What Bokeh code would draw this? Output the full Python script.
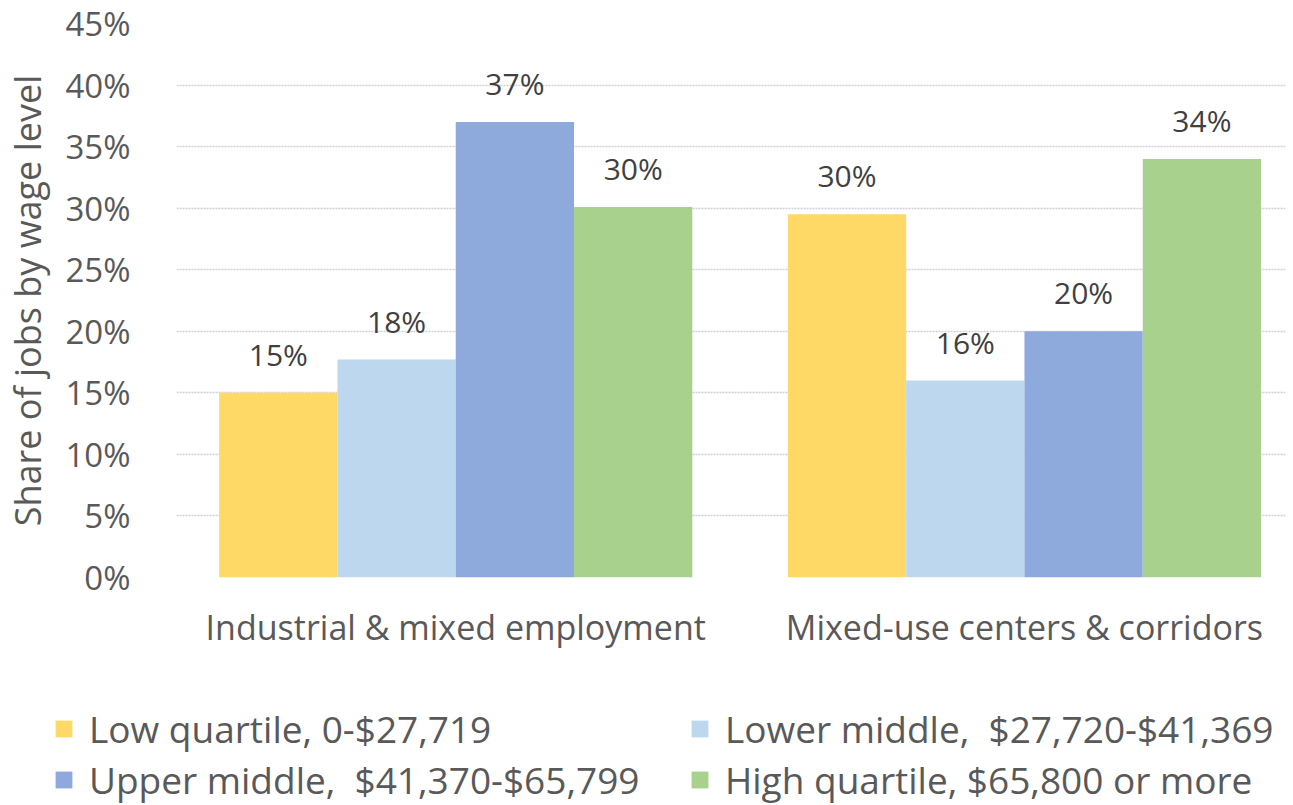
from bokeh.plotting import figure
from bokeh.models import (ColumnDataSource, Range1d, FixedTicker, PrintfTickFormatter,
                          Legend, LegendItem)
from bokeh.core.properties import value
from bokeh.embed import file_html
from bokeh.resources import INLINE

# ---- data ----
categories = ["Industrial & mixed employment", "Mixed-use centers & corridors"]
series_names = ["Low quartile, 0-$27,719",
                "Lower middle,  $27,720-$41,369",
                "Upper middle,  $41,370-$65,799",
                "High quartile, $65,800 or more"]
low_quartile = [15.0, 29.5]
lower_middle = [17.7, 16.0]
upper_middle = [37.0, 20.0]
high_quartile = [30.1, 34.0]
y_ticks = [0, 5, 10, 15, 20, 25, 30, 35, 40, 45]
grid_ticks = [0, 5, 10, 15, 20, 25, 30, 35, 40]

colors = ["#FFD966", "#BDD7EE", "#8EA9DB", "#A9D18E"]
FONT = "Open Sans"
TXT = "#595959"

series_values = [low_quartile, lower_middle, upper_middle, high_quartile]

W = 1290
p = figure(width=W, height=678, output_backend="svg", toolbar_location=None,
           x_range=Range1d(-0.491, 1.459), y_range=Range1d(0, 45),
           min_border_left=175, min_border_right=5, min_border_top=23,
           min_border_bottom=101)
p.outline_line_color = None
p.background_fill_color = "white"
p.border_fill_color = "white"

bar_w = 0.208
for i, (name, vals, col) in enumerate(zip(series_names, series_values, colors)):
    off = (i - 1.5) * bar_w
    xs = [k + off for k in range(len(categories))]
    src = ColumnDataSource(dict(x=xs, top=vals,
                                lbl=[f"{int(v + 0.5)}%" for v in vals]))
    p.vbar(x="x", top="top", bottom=0, width=bar_w, source=src,
           fill_color=col, line_color=None)
    p.text(x="x", y="top", text="lbl", source=src, text_align="center",
           text_baseline="bottom", y_offset=-18, text_font=value(FONT),
           text_font_size="30px", text_color="#404040")

# axes
p.xaxis.ticker = FixedTicker(ticks=list(range(len(categories))))
p.xaxis.major_label_overrides = {k: c for k, c in enumerate(categories)}
p.xaxis.axis_line_color = None
p.xaxis.major_tick_line_color = None
p.xaxis.minor_tick_line_color = None
p.xaxis.major_label_text_font = FONT
p.xaxis.major_label_text_font_size = "34px"
p.xaxis.major_label_text_color = TXT
p.xaxis.major_label_standoff = 20

p.yaxis.ticker = FixedTicker(ticks=y_ticks)
p.yaxis.formatter = PrintfTickFormatter(format="%d%%")
p.yaxis.axis_line_color = None
p.yaxis.major_tick_line_color = None
p.yaxis.minor_tick_line_color = None
p.yaxis.major_label_text_font = FONT
p.yaxis.major_label_text_font_size = "33px"
p.yaxis.major_label_text_color = TXT
p.yaxis.major_label_standoff = 40
p.yaxis.axis_label = "Share of jobs by wage level"
p.yaxis.axis_label_text_font = FONT
p.yaxis.axis_label_text_font_size = "36px"
p.yaxis.axis_label_text_font_style = "normal"
p.yaxis.axis_label_text_color = TXT
p.yaxis.axis_label_standoff = 10

p.xgrid.grid_line_color = None
p.ygrid.ticker = FixedTicker(ticks=grid_ticks)
p.ygrid.grid_line_color = "#D0D0D0"
p.ygrid.grid_line_width = 1.5
p.ygrid.grid_line_dash = "2 1"

# ---- legend strip (separate root so its frame starts at the page's left) ----
LH = 127
pl = figure(width=W, height=LH, output_backend="svg", toolbar_location=None,
            x_range=Range1d(0, W), y_range=Range1d(0, LH),
            x_axis_type=None, y_axis_type=None,
            min_border=0, min_border_left=0, min_border_right=0,
            min_border_top=0, min_border_bottom=0)
pl.grid.grid_line_color = None
pl.outline_line_color = None
pl.background_fill_color = "white"
pl.border_fill_color = "white"
items = []
for name, col in zip(series_names, colors):
    # zero-height placeholder bar: only supplies the legend swatch
    r = pl.vbar(x=[0], top=[0], bottom=[0], width=0, fill_color=col, line_color=None)
    items.append(LegendItem(label=name, renderers=[r]))

legend = Legend(items=items, orientation="horizontal", ncols=2,
                location=(53, 0))
legend.label_text_font = FONT
legend.label_text_font_size = "37px"
legend.label_text_color = TXT
legend.glyph_width = 21
legend.glyph_height = 21
legend.label_width = 600
legend.label_height = 46
legend.label_standoff = 15
legend.spacing = -3
legend.padding = 0
legend.margin = 0
legend.border_line_color = None
legend.background_fill_alpha = 0
pl.add_layout(legend)

open("out.html", "w").write(file_html([p, pl], INLINE))
